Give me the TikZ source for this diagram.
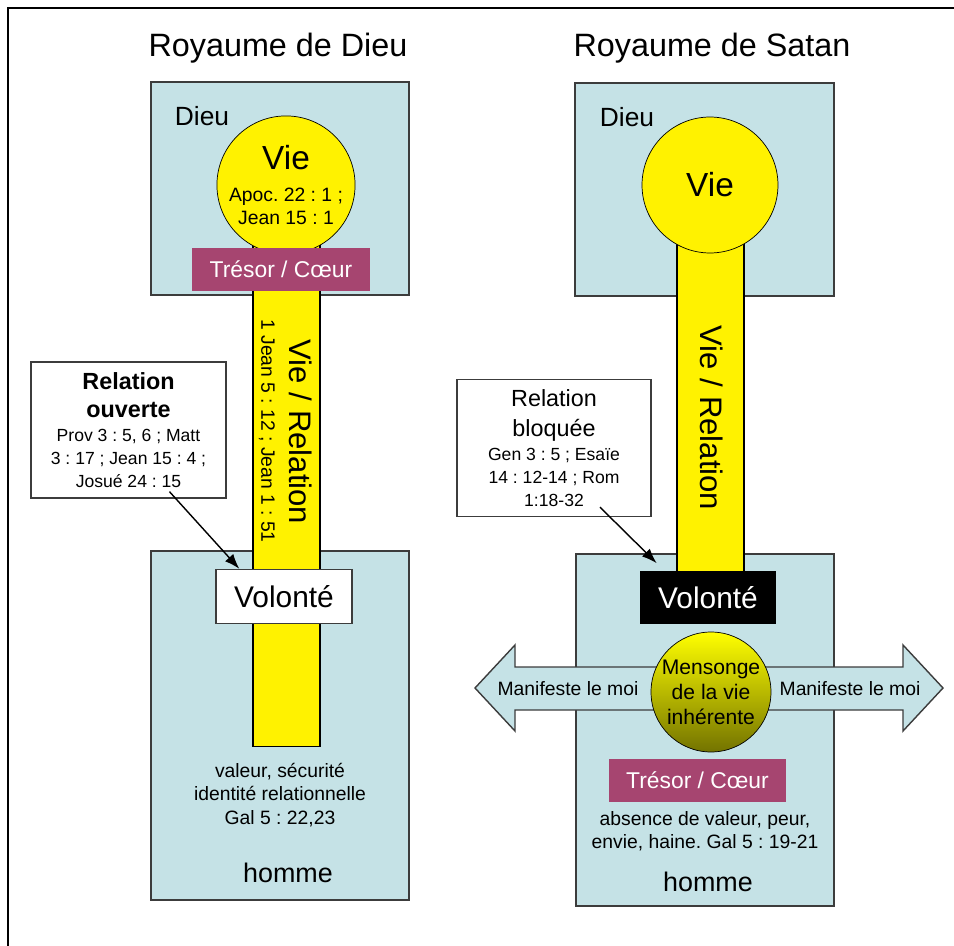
\documentclass[tikz,border=0pt]{standalone}
\usepackage{fontspec}
\setmainfont{Liberation Sans}
\usetikzlibrary{shapes,arrows.meta,positioning,calc}
\frenchspacing

\definecolor{realmblue}{RGB}{197,226,230}
\definecolor{tresor}{RGB}{166,69,112}
\definecolor{edgegray}{RGB}{60,60,60}
\definecolor{lieolive}{RGB}{115,115,0}

\tikzset{
  realm/.style={draw=edgegray, fill=realmblue, line width=0.8pt, minimum width=5.16cm},
  life/.style={draw=black, fill=yellow, circle, minimum size=2.72cm, inner sep=0pt, align=center},
  pipe/.style={draw=black, fill=yellow, line width=0.6pt, minimum width=1.34cm, inner sep=0pt},
  heart/.style={fill=tresor, text=white, minimum width=3.56cm, minimum height=0.86cm, font=\fontsize{13}{15}\selectfont},
  will/.style={minimum width=2.72cm, minimum height=1.08cm, font=\fontsize{17}{20}\selectfont},
  note/.style={draw=edgegray, fill=white, line width=0.8pt, minimum width=3.9cm, minimum height=2.72cm, align=center, inner sep=2pt, font=\fontsize{10}{13}\selectfont},
  verse/.style={align=center, font=\fontsize{11}{13.3}\selectfont},
  pointer/.style={-{Latex[length=3mm,width=2.2mm]}, line width=0.8pt},
}

\begin{document}
\begin{tikzpicture}[x=0.02cm, y=-0.02cm]
\useasboundingbox (0,0) rectangle (954,946);
\draw[line width=1.2pt] (8,946) -- (8,8) -- (954,8);

% titles
\node[font=\fontsize{18.4}{22}\selectfont] (titleA) at (278,48) {Royaume de Dieu};
\node[font=\fontsize{18.4}{22}\selectfont] (titleB) at (712,48) {Royaume de Satan};

% realm boxes
\node[realm, minimum height=4.26cm] (godA) at (280,188.5) {};
\node[realm, minimum height=6.98cm] (manA) at (280,725.5) {};
\node[realm, minimum width=5.18cm, minimum height=4.26cm] (godB) at (704.5,189.5) {};
\node[realm, minimum height=7.04cm] (manB) at (705,730) {};

\node[font=\fontsize{15}{18}\selectfont] (dieuA) at (202,116) {Dieu};
\node[font=\fontsize{15}{18}\selectfont] (dieuB) at (627,117) {Dieu};

% Royaume de Dieu
\node[pipe, minimum height=10.14cm] (pipeA) at (286.5,493.5) {};
\node[life, font=\fontsize{11}{13}\selectfont] (vieA) at (286,185) {{\fontsize{19}{22}\selectfont Vie}\\[5pt]
    Apoc. 22 : 1 ;\\Jean 15 : 1};
\node[heart] (coeurA) at (281,269.5) {Trésor / Cœur};
\node[will, draw=edgegray, fill=white, line width=0.8pt] (volA) at (284,596.5) {Volonté};
\node[rotate=-90, font=\fontsize{17.7}{20}\selectfont] (relA) at (301,432) {Vie / Relation};
\node[rotate=-90, font=\fontsize{11}{13}\selectfont] (refA) at (267,431) {1 Jean 5 : 12 ; Jean 1 : 51};
\node[verse] (fruitA) at (280,795) {valeur, sécurité\\identité relationnelle\\Gal 5 : 22,23};
\node[font=\fontsize{15.3}{18}\selectfont] (hommeA) at (288,873) {homme};

% Royaume de Satan
\node[pipe, minimum height=6.64cm] (pipeB) at (710.5,406) {};
\node[life] (vieB) at (710,185) {\fontsize{19}{22}\selectfont Vie};
\node[rotate=-90, font=\fontsize{17.7}{20}\selectfont] (relB) at (712,418) {Vie / Relation};
\node[will, fill=black, text=white] (volB) at (708,597.5) {Volonté};
\path[draw=edgegray, fill=realmblue, line width=0.8pt] (475,688) -- (515,645) -- (515,667)
    -- (903,667) -- (903,645) -- (943,688) -- (903,731) -- (903,710) -- (515,710) -- (515,731) -- cycle;
\node[font=\fontsize{11}{13}\selectfont] (moiL) at (568,689) {Manifeste le moi};
\node[font=\fontsize{11}{13}\selectfont] (moiR) at (850,689) {Manifeste le moi};
\node[circle, draw=black, top color=yellow, bottom color=lieolive, minimum size=2.4cm, inner sep=0pt,
    align=center, font=\fontsize{12}{14.2}\selectfont] (lie) at (711,692) {Mensonge\\de la vie\\inhérente};
\node[heart] (coeurB) at (697.5,780.5) {Trésor / Cœur};
\node[verse] (fruitB) at (705,831.5) {absence de valeur, peur,\\envie, haine. Gal 5 : 19-21};
\node[font=\fontsize{15.3}{18}\selectfont] (hommeB) at (708,882) {homme};

% relation notes
\node[note] (ouv) at (128.5,430) {{\fontsize{13.3}{15}\selectfont\bfseries Relation}\\[3pt]
    {\fontsize{13.3}{15}\selectfont\bfseries ouverte}\\[1pt]Prov 3 : 5, 6 ; Matt\\3 : 17 ; Jean 15 : 4 ;\\Josué 24 : 15};
\node[note, minimum width=3.88cm, minimum height=2.74cm] (blq) at (554,448) {{\fontsize{13.3}{15}\selectfont Relation}\\[4pt]
    {\fontsize{13.3}{15}\selectfont bloquée}\\[1pt]Gen 3 : 5 ; Esaïe\\14 : 12-14 ; Rom\\1:18-32};
\draw[pointer] ($(ouv.south)+(41,-7)$) -- ($(volA.north west)+(24,0)$);
\draw[pointer] ($(blq.south)+(46,-10)$) -- ($(volB.north west)+(17,-7)$);
\end{tikzpicture}
\end{document}
